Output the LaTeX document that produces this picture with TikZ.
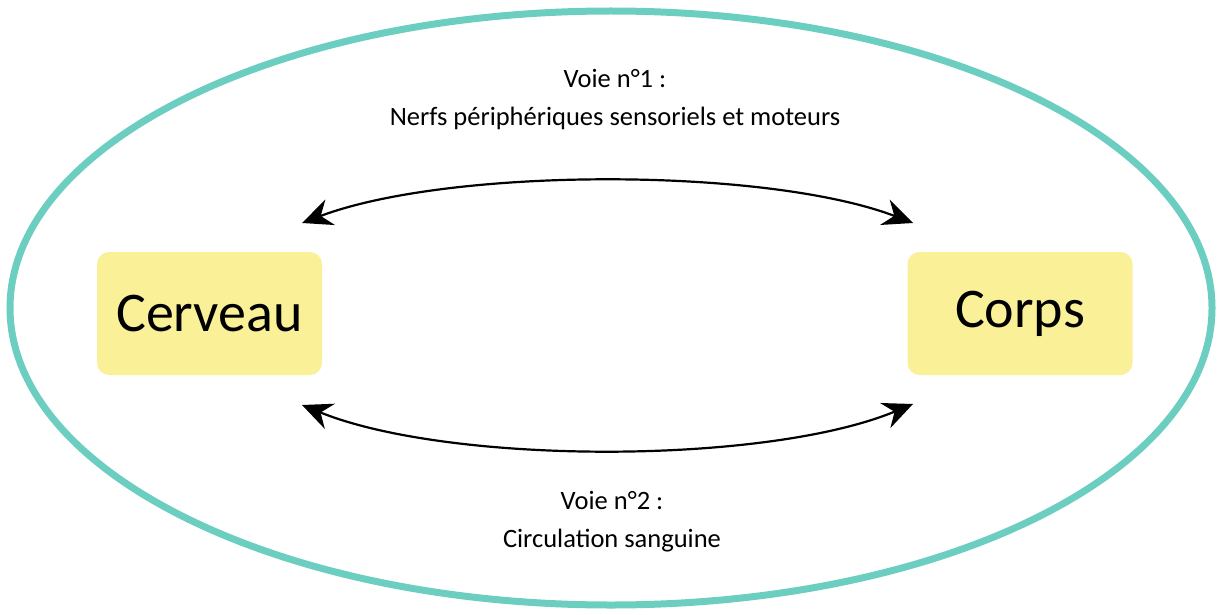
\documentclass[tikz,border=0pt]{standalone}
\usepackage{fontspec}
\setmainfont{Carlito}
\usetikzlibrary{arrows.meta}
\definecolor{teal1}{RGB}{108,206,192}
\definecolor{pale}{RGB}{250,240,152}
\tikzset{
  box/.style={fill=pale, rounded corners=12pt, minimum width=225pt, minimum height=123pt, inner sep=0pt, font=\fontsize{56}{66}\selectfont},
  lbl/.style={align=center, font=\fontsize{26.5}{38}\selectfont},
  arr/.style={line width=2.2pt, {Stealth[length=30pt,width=27pt,inset=10pt]}-{Stealth[length=30pt,width=27pt,inset=10pt]}}
}
\begin{document}
\begin{tikzpicture}[x=1pt,y=-1pt]
\useasboundingbox (0,0) rectangle (1220,615);
\draw[teal1, line width=7pt] (611,308) ellipse [x radius=601, y radius=297];
\node[box] (cerv) at (209.5,313.5) {Cerveau};
\node[box] (corps) at (1020,313.5) {Corps};
\node[lbl] (l1) at (615,100) {Voie n°1 :\\Nerfs périphériques sensoriels et moteurs};
\node[lbl] (l2) at (612,522) {Voie n°2 :\\Circulation sanguine};
\coordinate (t1) at (302,223);
\coordinate (t2) at (913,223);
\coordinate (b1) at (302,405);
\coordinate (b2) at (913,404);
\draw[arr] (t1) .. controls (450,167) and (766,167) .. (t2);
\draw[arr] (b1) .. controls (450,465) and (766,465) .. (b2);
\end{tikzpicture}
\end{document}
